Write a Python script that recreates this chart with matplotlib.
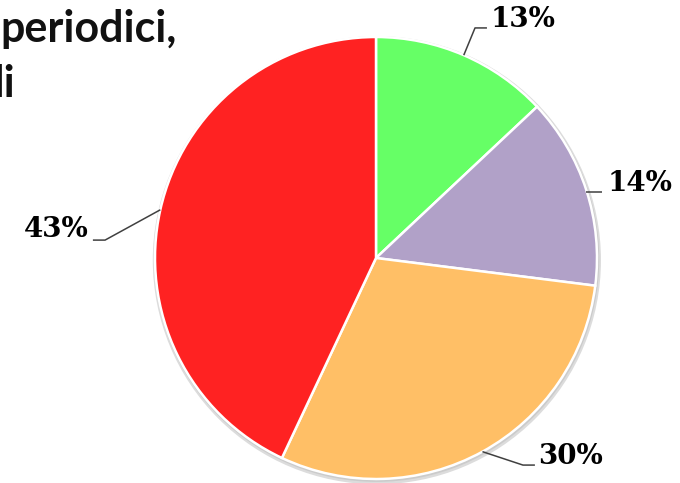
import numpy as np
import matplotlib
matplotlib.use("Agg")
import matplotlib.pyplot as plt
from matplotlib.patches import Circle

# Data
labels = ["13%", "14%", "30%", "43%"]
values = [13, 14, 30, 43]
colors = ["#66FF66", "#B1A1C8", "#FFBF66", "#FF2222"]

W, H = 680, 483
fig = plt.figure(figsize=(W / 100, H / 100), dpi=100)
ax = fig.add_axes([0, 0, 1, 1])

R = 221.0
cx, cy = 376.0, 258.0  # pixel centre (from top)

# soft shadow
ax.add_patch(Circle((0.004, -0.010), 1.014, color="#dcdcdc", zorder=0, lw=0))
ax.add_patch(Circle((0.003, -0.006), 1.007, color="#c4c4c4", zorder=0, lw=0, alpha=0.7))

wedges, _ = ax.pie(values, colors=colors, startangle=90, counterclock=False,
                   radius=1.0, center=(0, 0),
                   wedgeprops=dict(edgecolor="white", linewidth=1.8))
for w in wedges:
    w.set_zorder(2)

# label layout (data units, radius = 1): elbow, line end, text anchor
layout = [
    dict(elbow=(0.448, 1.041), end=(0.502, 1.041), text=(0.518, 1.081), ha="left"),
    dict(elbow=None, end=(1.023, 0.299), text=(1.050, 0.339), ha="left"),
    dict(elbow=(0.665, -0.937), end=(0.719, -0.937), text=(0.735, -0.896), ha="left"),
    dict(elbow=(-1.226, 0.081), end=(-1.281, 0.081), text=(-1.300, 0.131), ha="right"),
]

for w, lab, lay in zip(wedges, labels, layout):
    mid = np.deg2rad((w.theta1 + w.theta2) / 2)
    ex, ey = np.cos(mid), np.sin(mid)
    pts = [(ex, ey)]
    if lay["elbow"] is not None:
        pts.append(lay["elbow"])
    else:
        pts[0] = (ex, lay["end"][1])
    pts.append(lay["end"])
    xs, ys = zip(*pts)
    ax.plot(xs, ys, color="#404040", lw=1.1, zorder=3, solid_capstyle="butt")
    ax.text(lay["text"][0], lay["text"][1], lab, ha=lay["ha"], va="center",
            fontsize=20, fontweight="bold", family="DejaVu Serif", color="black",
            zorder=4)

ax.set_xlim(-cx / R, (W - cx) / R)
ax.set_ylim(-(H - cy) / R, cy / R)
ax.set_aspect("auto")
ax.axis("off")

# Partially visible title (its second line is cut at the left edge, as in the reference)
fig.text(0 / W, 1 - 42 / H, "periodici,", ha="left", va="baseline",
         fontsize=31, fontweight="bold", family="Lato", color="#111111")
fig.text(15 / W, 1 - 97 / H, "li", ha="right", va="baseline",
         fontsize=31, fontweight="bold", family="Lato", color="#111111")

fig.savefig("out.png", dpi=100, facecolor="white")
